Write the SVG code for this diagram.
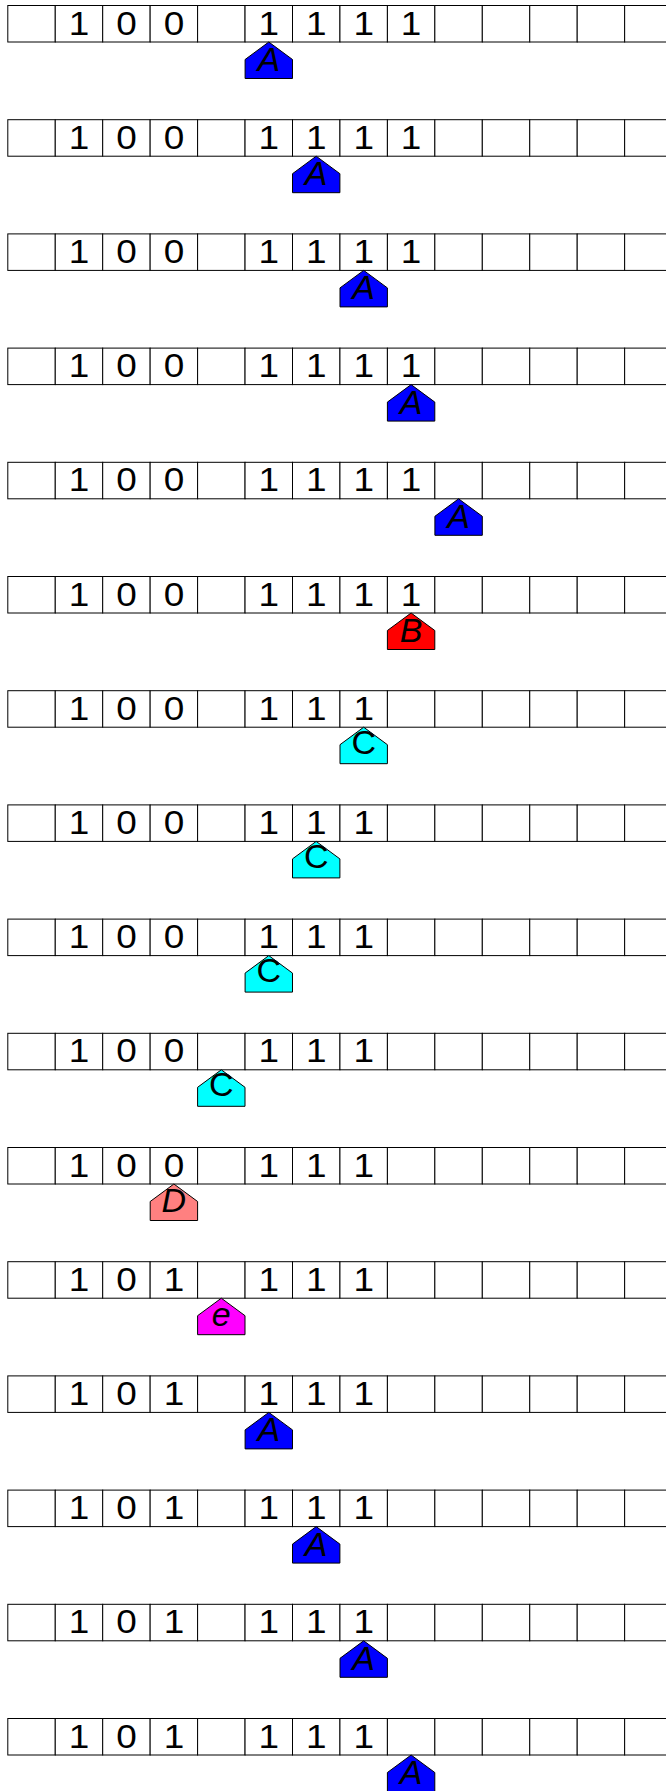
<svg xmlns="http://www.w3.org/2000/svg" xmlns:xlink="http://www.w3.org/1999/xlink" width="666" height="1791" viewBox="0 0 666 1791">
<style>
.cell{fill:#fff;stroke:#000;stroke-width:1}
.d{font-family:"Liberation Sans",Arial,sans-serif;font-size:33px;text-anchor:middle;fill:#000}
.l{font-family:"Liberation Sans",Arial,sans-serif;font-size:34px;font-style:italic;text-anchor:middle;fill:#000}
.u{font-style:normal}
.ptr{stroke:#000;stroke-width:1}
.A{fill:#0000ff}.B{fill:#ff0000}.C{fill:#00ffff}.D{fill:#ff8080}.E{fill:#ff00ff}
</style>
<defs>
<g id="tape">
<rect class="cell" x="7.8" y="0" width="47.45" height="36.5"/>
<rect class="cell" x="55.25" y="0" width="47.45" height="36.5"/>
<rect class="cell" x="102.7" y="0" width="47.45" height="36.5"/>
<rect class="cell" x="150.15" y="0" width="47.45" height="36.5"/>
<rect class="cell" x="197.6" y="0" width="47.45" height="36.5"/>
<rect class="cell" x="245.05" y="0" width="47.45" height="36.5"/>
<rect class="cell" x="292.5" y="0" width="47.45" height="36.5"/>
<rect class="cell" x="339.95" y="0" width="47.45" height="36.5"/>
<rect class="cell" x="387.4" y="0" width="47.45" height="36.5"/>
<rect class="cell" x="434.85" y="0" width="47.45" height="36.5"/>
<rect class="cell" x="482.3" y="0" width="47.45" height="36.5"/>
<rect class="cell" x="529.75" y="0" width="47.45" height="36.5"/>
<rect class="cell" x="577.2" y="0" width="47.45" height="36.5"/>
<rect class="cell" x="624.65" y="0" width="47.45" height="36.5"/>
</g>
<path id="pent" d="M0,0 L23.7,17.5 L23.7,36.5 L-23.7,36.5 L-23.7,17.5 Z"/>
<text id="d1" class="d" transform="scale(1.12,1)">1</text>
<text id="d0" class="d" transform="scale(1.12,1)">0</text>
<g id="t100">
<use xlink:href="#d1" x="79" y="29"/><use xlink:href="#d0" x="126.4" y="29"/><use xlink:href="#d0" x="173.9" y="29"/>
</g>
<g id="t101">
<use xlink:href="#d1" x="79" y="29"/><use xlink:href="#d0" x="126.4" y="29"/><use xlink:href="#d1" x="173.9" y="29"/>
</g>
<g id="t1111">
<use xlink:href="#d1" x="268.8" y="29"/><use xlink:href="#d1" x="316.2" y="29"/><use xlink:href="#d1" x="363.7" y="29"/><use xlink:href="#d1" x="411.1" y="29"/>
</g>
<g id="t111">
<use xlink:href="#d1" x="268.8" y="29"/><use xlink:href="#d1" x="316.2" y="29"/><use xlink:href="#d1" x="363.7" y="29"/>
</g>
</defs>

<g id="row1" transform="translate(0,5.5)">
<use xlink:href="#tape"/><use xlink:href="#t100"/><use xlink:href="#t1111"/>
<g id="ptr1"><use xlink:href="#pent" class="ptr A" x="268.8" y="36.5"/><text class="l" x="268.8" y="65.5">A</text></g>
</g>

<g id="row2" transform="translate(0,119.7)">
<use xlink:href="#tape"/><use xlink:href="#t100"/><use xlink:href="#t1111"/>
<g id="ptr2"><use xlink:href="#pent" class="ptr A" x="316.2" y="36.5"/><text class="l" x="316.2" y="65.5">A</text></g>
</g>

<g id="row3" transform="translate(0,233.9)">
<use xlink:href="#tape"/><use xlink:href="#t100"/><use xlink:href="#t1111"/>
<g id="ptr3"><use xlink:href="#pent" class="ptr A" x="363.7" y="36.5"/><text class="l" x="363.7" y="65.5">A</text></g>
</g>

<g id="row4" transform="translate(0,348.1)">
<use xlink:href="#tape"/><use xlink:href="#t100"/><use xlink:href="#t1111"/>
<g id="ptr4"><use xlink:href="#pent" class="ptr A" x="411.1" y="36.5"/><text class="l" x="411.1" y="65.5">A</text></g>
</g>

<g id="row5" transform="translate(0,462.3)">
<use xlink:href="#tape"/><use xlink:href="#t100"/><use xlink:href="#t1111"/>
<g id="ptr5"><use xlink:href="#pent" class="ptr A" x="458.6" y="36.5"/><text class="l" x="458.6" y="65.5">A</text></g>
</g>

<g id="row6" transform="translate(0,576.5)">
<use xlink:href="#tape"/><use xlink:href="#t100"/><use xlink:href="#t1111"/>
<g id="ptr6"><use xlink:href="#pent" class="ptr B" x="411.1" y="36.5"/><text class="l" x="411.1" y="65.5">B</text></g>
</g>

<g id="row7" transform="translate(0,690.7)">
<use xlink:href="#tape"/><use xlink:href="#t100"/><use xlink:href="#t111"/>
<g id="ptr7"><use xlink:href="#pent" class="ptr C" x="363.7" y="36.5"/><text class="l u" x="363.7" y="63">C</text></g>
</g>

<g id="row8" transform="translate(0,804.9)">
<use xlink:href="#tape"/><use xlink:href="#t100"/><use xlink:href="#t111"/>
<g id="ptr8"><use xlink:href="#pent" class="ptr C" x="316.2" y="36.5"/><text class="l u" x="316.2" y="63">C</text></g>
</g>

<g id="row9" transform="translate(0,919.1)">
<use xlink:href="#tape"/><use xlink:href="#t100"/><use xlink:href="#t111"/>
<g id="ptr9"><use xlink:href="#pent" class="ptr C" x="268.8" y="36.5"/><text class="l u" x="268.8" y="63">C</text></g>
</g>

<g id="row10" transform="translate(0,1033.3)">
<use xlink:href="#tape"/><use xlink:href="#t100"/><use xlink:href="#t111"/>
<g id="ptr10"><use xlink:href="#pent" class="ptr C" x="221.3" y="36.5"/><text class="l u" x="221.3" y="63">C</text></g>
</g>

<g id="row11" transform="translate(0,1147.5)">
<use xlink:href="#tape"/><use xlink:href="#t100"/><use xlink:href="#t111"/>
<g id="ptr11"><use xlink:href="#pent" class="ptr D" x="173.9" y="36.5"/><text class="l" x="173.9" y="64.5">D</text></g>
</g>

<g id="row12" transform="translate(0,1261.7)">
<use xlink:href="#tape"/><use xlink:href="#t101"/><use xlink:href="#t111"/>
<g id="ptr12"><use xlink:href="#pent" class="ptr E" x="221.3" y="36.5"/><text class="l" x="221.3" y="64.5">e</text></g>
</g>

<g id="row13" transform="translate(0,1375.9)">
<use xlink:href="#tape"/><use xlink:href="#t101"/><use xlink:href="#t111"/>
<g id="ptr13"><use xlink:href="#pent" class="ptr A" x="268.8" y="36.5"/><text class="l" x="268.8" y="65.5">A</text></g>
</g>

<g id="row14" transform="translate(0,1490.1)">
<use xlink:href="#tape"/><use xlink:href="#t101"/><use xlink:href="#t111"/>
<g id="ptr14"><use xlink:href="#pent" class="ptr A" x="316.2" y="36.5"/><text class="l" x="316.2" y="65.5">A</text></g>
</g>

<g id="row15" transform="translate(0,1604.3)">
<use xlink:href="#tape"/><use xlink:href="#t101"/><use xlink:href="#t111"/>
<g id="ptr15"><use xlink:href="#pent" class="ptr A" x="363.7" y="36.5"/><text class="l" x="363.7" y="65.5">A</text></g>
</g>

<g id="row16" transform="translate(0,1718.5)">
<use xlink:href="#tape"/><use xlink:href="#t101"/><use xlink:href="#t111"/>
<g id="ptr16"><use xlink:href="#pent" class="ptr A" x="411.1" y="36.5"/><text class="l" x="411.1" y="65.5">A</text></g>
</g>

<g id="connectors"></g>
</svg>
